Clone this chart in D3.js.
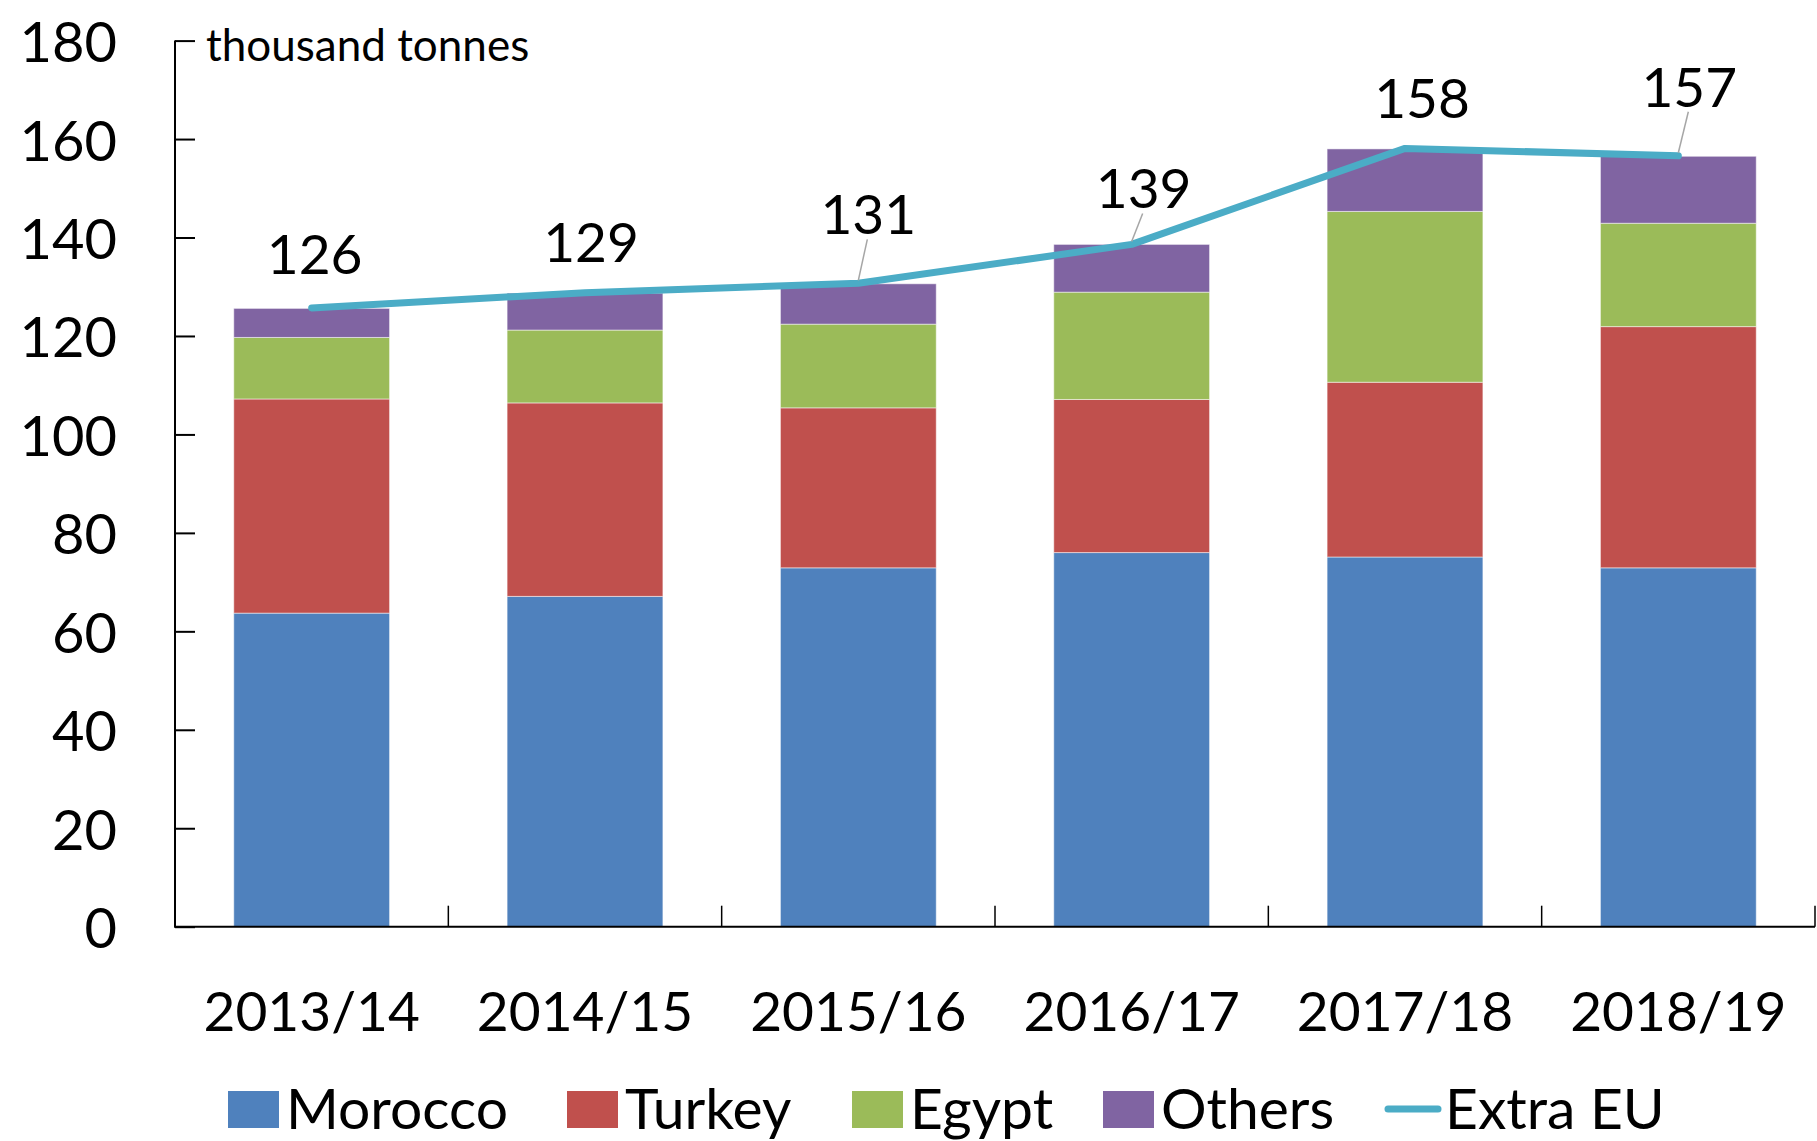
<!DOCTYPE html>
<html>
<head>
<meta charset="utf-8">
<script src="https://cdn.jsdelivr.net/npm/d3@7"></script>
<style>
  html, body { margin: 0; padding: 0; background: #fff; }
  svg { display: block; }
  text { font-family: Lato, "Liberation Sans", sans-serif; fill: #000; }
</style>
</head>
<body>
<svg id="chart" width="1817" height="1141"></svg>
<script>
// ---- data ----
const categories = ["2013/14", "2014/15", "2015/16", "2016/17", "2017/18", "2018/19"];
const morocco = [63.7, 67.1, 72.9, 76.0, 75.1, 72.9];
const turkey  = [43.5, 39.3, 32.5, 31.1, 35.5, 49.0];
const egypt   = [12.5, 14.8, 17.0, 21.8, 34.7, 21.0];
const others  = [5.9, 7.5, 8.2, 9.7, 12.7, 13.6];
const extraEU = [125.7, 128.8, 130.7, 138.6, 158.1, 156.6];
const yTicks  = [0, 20, 40, 60, 80, 100, 120, 140, 160, 180];
const seriesNames = ["Morocco", "Turkey", "Egypt", "Others"];
const lineName = "Extra EU";
const unitLabel = "thousand tonnes";

(function () {
// ---- styling / layout ----
const colors = { Morocco: "#4F81BD", Turkey: "#C0504D", Egypt: "#9BBB59", Others: "#8064A2" };
const lineColor = "#4BACC6";
const plotLeft = 175, plotRight = 1815, plotTop = 40.6, plotBottom = 926.7;
const fontSize = 55;
const legendFont = 57;
// label offset adjustments (px) for data labels, as in original
const labelDx = [3, 6, 10, 12, 17, 11];
const labelDy = [-55, -52, -70, -57, -51, -70];
const leader  = [false, false, true, true, false, true];

const svg = d3.select("#chart");

const x = d3.scaleBand().domain(categories).range([plotLeft, plotRight]).paddingInner(0.43).paddingOuter(0.215);
const y = d3.scaleLinear().domain([0, 180]).range([plotBottom, plotTop]);

const table = categories.map((c, i) => ({
  cat: c, Morocco: morocco[i], Turkey: turkey[i], Egypt: egypt[i], Others: others[i]
}));
const stacked = d3.stack().keys(seriesNames)(table);

// bars
svg.append("g").selectAll("g").data(stacked).join("g")
  .attr("fill", d => colors[d.key])
  .selectAll("rect").data(d => d).join("rect")
  .attr("x", d => x(d.data.cat))
  .attr("width", x.bandwidth())
  .attr("y", d => y(d[1]))
  .attr("height", d => y(d[0]) - y(d[1]))
  .attr("stroke", "#ffffff").attr("stroke-opacity", 0.5).attr("stroke-width", 1);

// y axis
const yAxis = d3.axisRight(y).tickValues(yTicks).tickSize(20).tickFormat("");
const gy = svg.append("g").attr("transform", `translate(${plotLeft},0)`).call(yAxis);
gy.select(".domain").attr("d", `M0,${plotTop}V${plotBottom}`).attr("stroke", "#000").attr("stroke-width", 2);
gy.selectAll(".tick line").attr("stroke", "#000").attr("stroke-width", 2);
svg.append("g").selectAll("text").data(yTicks).join("text")
  .attr("x", 117).attr("y", d => y(d))
  .attr("text-anchor", "end").attr("dominant-baseline", "central")
  .attr("font-size", 56)
  .text(d => d);

// x axis
const boundaries = d3.range(categories.length + 1).map(i => plotLeft + i * x.step());
const gx = svg.append("g");
gx.append("line").attr("x1", plotLeft - 1).attr("x2", plotRight).attr("y1", plotBottom).attr("y2", plotBottom)
  .attr("stroke", "#000").attr("stroke-width", 2);
gx.selectAll("line.t").data(boundaries.slice(1)).join("line").attr("class", "t")
  .attr("x1", d => d).attr("x2", d => d).attr("y1", plotBottom).attr("y2", plotBottom - 21)
  .attr("stroke", "#000").attr("stroke-width", 1.5);
svg.append("g").selectAll("text").data(categories).join("text")
  .attr("x", d => x(d) + x.bandwidth() / 2).attr("y", 1010)
  .attr("text-anchor", "middle").attr("dominant-baseline", "central")
  .attr("font-size", fontSize)
  .text(d => d);

// unit label
svg.append("text").attr("x", 206).attr("y", 44).attr("dominant-baseline", "central")
  .attr("font-size", 44).text(unitLabel);

// line
const line = d3.line().x((d, i) => x(categories[i]) + x.bandwidth() / 2).y(d => y(d));
svg.append("path").datum(extraEU).attr("d", line)
  .attr("fill", "none").attr("stroke", lineColor).attr("stroke-width", 7)
  .attr("stroke-linecap", "round").attr("stroke-linejoin", "round");

// data labels
const lg = svg.append("g");
extraEU.forEach((v, i) => {
  const px = x(categories[i]) + x.bandwidth() / 2, py = y(v);
  const lx = px + labelDx[i], ly = py + labelDy[i];
  if (leader[i]) {
    lg.append("line").attr("x1", px).attr("y1", py - 3).attr("x2", lx - 1).attr("y2", ly + 26)
      .attr("stroke", "#A6A6A6").attr("stroke-width", 1.5);
  }
  lg.append("text").attr("x", lx).attr("y", ly)
    .attr("text-anchor", "middle").attr("dominant-baseline", "central")
    .attr("font-size", fontSize).text(Math.round(v));
});

// legend
const legendY = 1107;
const legendItems = [
  { name: "Morocco", sx: 228 }, { name: "Turkey", sx: 567 },
  { name: "Egypt", sx: 852 }, { name: "Others", sx: 1103 }
];
const leg = svg.append("g");
legendItems.forEach(it => {
  leg.append("rect").attr("x", it.sx).attr("y", legendY - 16).attr("width", 51).attr("height", 37)
    .attr("fill", colors[it.name]);
  leg.append("text").attr("x", it.sx + 58).attr("y", legendY).attr("dominant-baseline", "central")
    .attr("font-size", legendFont).text(it.name);
});
leg.append("line").attr("x1", 1388).attr("x2", 1438).attr("y1", legendY + 2).attr("y2", legendY + 2)
  .attr("stroke", lineColor).attr("stroke-width", 7).attr("stroke-linecap", "round");
leg.append("text").attr("x", 1445).attr("y", legendY).attr("dominant-baseline", "central")
  .attr("font-size", legendFont).text(lineName);
})();
</script>
</body>
</html>
